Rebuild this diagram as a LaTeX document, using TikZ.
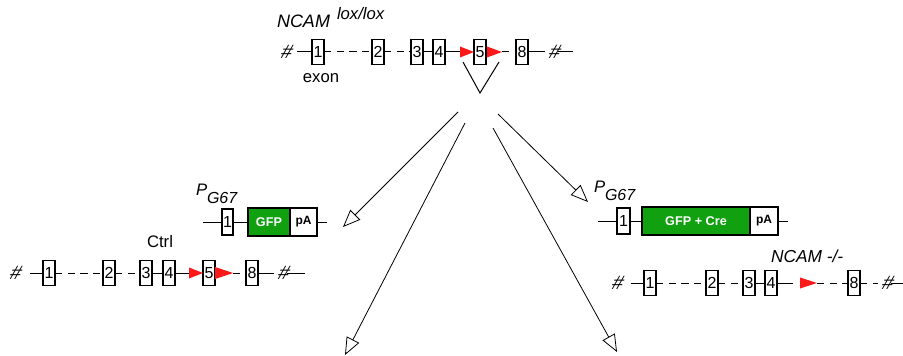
\documentclass[tikz,border=0pt]{standalone}
\usepackage{fontspec}
\setmainfont{Liberation Sans}
\usetikzlibrary{arrows.meta}
\definecolor{gfpgreen}{RGB}{16,160,16}
\definecolor{loxred}{RGB}{250,24,24}
% loxP site: red triangle pointing right; #1 name, #2 base x, #3 tip x, #4 y, #5 half height
\newcommand{\loxsite}[5]{%
  \coordinate (#1-b) at (#2,#4);
  \coordinate (#1-t) at (#3,#4);
  \fill[loxred] (#2,#4-#5) -- (#3,#4) -- (#2,#4+#5) -- cycle;}
\begin{document}
\begin{tikzpicture}[x=0.75pt,y=-0.75pt,
  line width=0.75pt,
  every node/.style={inner sep=0pt, outer sep=0pt},
  exonbox/.style={draw, line width=1pt, minimum width=9pt, minimum height=18.75pt,
    font=\fontsize{12}{12}\selectfont},
  hashmark/.style={font=\fontsize{14.5}{14}\selectfont\itshape, inner xsep=3.5pt,
    xslant=0.35, transform shape},
  gap/.style={dash pattern=on 5.5pt off 4pt},
  gfpbox/.style={draw, fill=gfpgreen, line width=1pt, minimum height=21pt,
    text=white, font=\fontsize{9.5}{10}\selectfont\bfseries},
  pabox/.style={draw, fill=white, line width=1pt, minimum height=21pt,
    font=\fontsize{9}{10}\selectfont\bfseries},
  label/.style={font=\fontsize{12.5}{13}\selectfont},
  itlabel/.style={font=\fontsize{13.5}{14}\selectfont\itshape},
  plabel/.style={font=\fontsize{12.5}{13}\selectfont\itshape},
  sublabel/.style={font=\fontsize{12}{12}\selectfont\itshape},
  genearrow/.style={-{Triangle[open,length=13pt,width=10.5pt]}, line width=0.6pt}
]
\useasboundingbox (0,0) rectangle (903,356);

% ---------- floxed NCAM allele ----------
\node[itlabel, anchor=west] (ncam) at (277,21) {NCAM};
\node[itlabel, font=\fontsize{12.5}{13}\selectfont\itshape, anchor=west] (lox) at (337,14) {lox/lox};
\node[hashmark] (th1) at (287,52) {\#};
\node[exonbox] (te1) at (318,52) {1};
\node[exonbox] (te2) at (378,52) {2};
\node[exonbox] (te3) at (417,52) {3};
\node[exonbox] (te4) at (439,52) {4};
\node[exonbox] (te5) at (480,52) {5};
\node[exonbox] (te8) at (522,52) {8};
\node[hashmark] (th2) at (555,52) {\#};
\coordinate (tend) at (573,52);
\node[label] (exon) at (321,78) {exon};
\loxsite{tl1}{460}{474}{52}{5.5}
\loxsite{tl2}{487}{502}{52}{5.5}
\draw (th1) -- (te1);
\draw[gap] (te1) -- (te2);
\draw[gap] (te2) -- (te3);
\draw (te3) -- (te4);
\draw (te4) -- (tl1-b);
\draw[gap] (tl2-t) -- (te8);
\draw (te8) -- (th2);
\draw ([xshift=-5pt]th2.east) -- (tend);

% excision mark under exon 5
\coordinate (v1) at (463,62);
\coordinate (v2) at (480,93);
\coordinate (v3) at (499,62);
\draw (v1) -- (v2) -- (v3);

% ---------- arrows ----------
\coordinate (a1s) at (458,112); \coordinate (a1e) at (343,227);
\coordinate (a2s) at (465,123); \coordinate (a2e) at (345,355);
\coordinate (a3s) at (493,128); \coordinate (a3e) at (617,352);
\coordinate (a4s) at (498,114); \coordinate (a4e) at (588,202);
\draw[genearrow] (a1s) -- (a1e);
\draw[genearrow] (a2s) -- (a2e);
\draw[genearrow] (a3s) -- (a3e);
\draw[genearrow] (a4s) -- (a4e);

% ---------- G67 promoter: GFP ----------
\node[plabel, anchor=west] (lp) at (196,190) {P};
\node[sublabel, anchor=west] (lg) at (207,198) {G67};
\coordinate (ls) at (203,222);
\node[exonbox, minimum width=8.25pt, minimum height=19.5pt] (lc1) at (227.5,222) {1};
\node[gfpbox, minimum width=31.5pt, anchor=west] (lgfp) at (248,222) {GFP};
\node[pabox, minimum width=20.25pt, anchor=west] (lpa) at (lgfp.east) {pA};
\coordinate (le) at (327,222);
\draw (ls) -- (lc1);
\draw (lc1) -- (lgfp);
\draw (lpa) -- (le);

% ---------- G67 promoter: GFP + Cre ----------
\node[plabel, anchor=west] (rp) at (594,187) {P};
\node[sublabel, anchor=west] (rg) at (605,195) {G67};
\coordinate (rs) at (598,221);
\node[exonbox, minimum width=9.75pt, minimum height=19.5pt] (rc1) at (623.5,221) {1};
\node[gfpbox, minimum width=81pt, anchor=west] (rgfp) at (642,221) {GFP + Cre};
\node[pabox, minimum width=21pt, anchor=west] (rpa) at (rgfp.east) {pA};
\coordinate (re) at (788,221);
\draw (rs) -- (rc1);
\draw (rc1) -- (rgfp);
\draw (rpa) -- (re);

% ---------- control allele ----------
\node[label] (ctrl) at (160,242) {Ctrl};
\node[hashmark] (ch1) at (16,273) {\#};
\node[exonbox] (ce1) at (49,273) {1};
\node[exonbox] (ce2) at (109,273) {2};
\node[exonbox] (ce3) at (146,273) {3};
\node[exonbox] (ce4) at (169,273) {4};
\node[exonbox] (ce5) at (209,273) {5};
\node[exonbox] (ce8) at (252,273) {8};
\node[hashmark] (ch2) at (284,273) {\#};
\coordinate (cend) at (305,273);
\loxsite{cl1}{189}{203}{273}{5.5}
\loxsite{cl2}{215}{233}{273}{6}
\draw ([xshift=3pt]ch1.east) -- (ce1);
\draw[gap] (ce1) -- (ce2);
\draw[gap] (ce2) -- (ce3);
\draw (ce3) -- (ce4);
\draw (ce4) -- (cl1-b);
\draw[gap] (cl2-t) -- (ce8);
\draw (ce8) -- (ch2);
\draw ([xshift=-5pt]ch2.east) -- (cend);

% ---------- recombined allele ----------
\node[itlabel, font=\fontsize{13}{13}\selectfont\itshape, anchor=west] (ko) at (771,256) {NCAM -/-};
\node[hashmark] (kh1) at (618,283) {\#};
\node[exonbox] (ke1) at (650,283) {1};
\node[exonbox] (ke2) at (712,283) {2};
\node[exonbox] (ke3) at (749,283) {3};
\node[exonbox] (ke4) at (771,283) {4};
\node[exonbox] (ke8) at (854,283) {8};
\node[hashmark] (kh2) at (888,283) {\#};
\coordinate (kx) at (793,283);
\coordinate (kend) at (903,283);
\loxsite{kl1}{800}{817}{283}{5.5}
\draw ([xshift=2pt]kh1.east) -- (ke1);
\draw[gap] (ke1) -- (ke2);
\draw[gap] (ke2) -- (ke3);
\draw (ke3) -- (ke4);
\draw (ke4) -- (kx);
\draw[gap] (kl1-t) -- (ke8);
\draw[gap] (ke8) -- (kh2);
\draw ([xshift=-5pt]kh2.east) -- (kend);
\end{tikzpicture}
\end{document}
